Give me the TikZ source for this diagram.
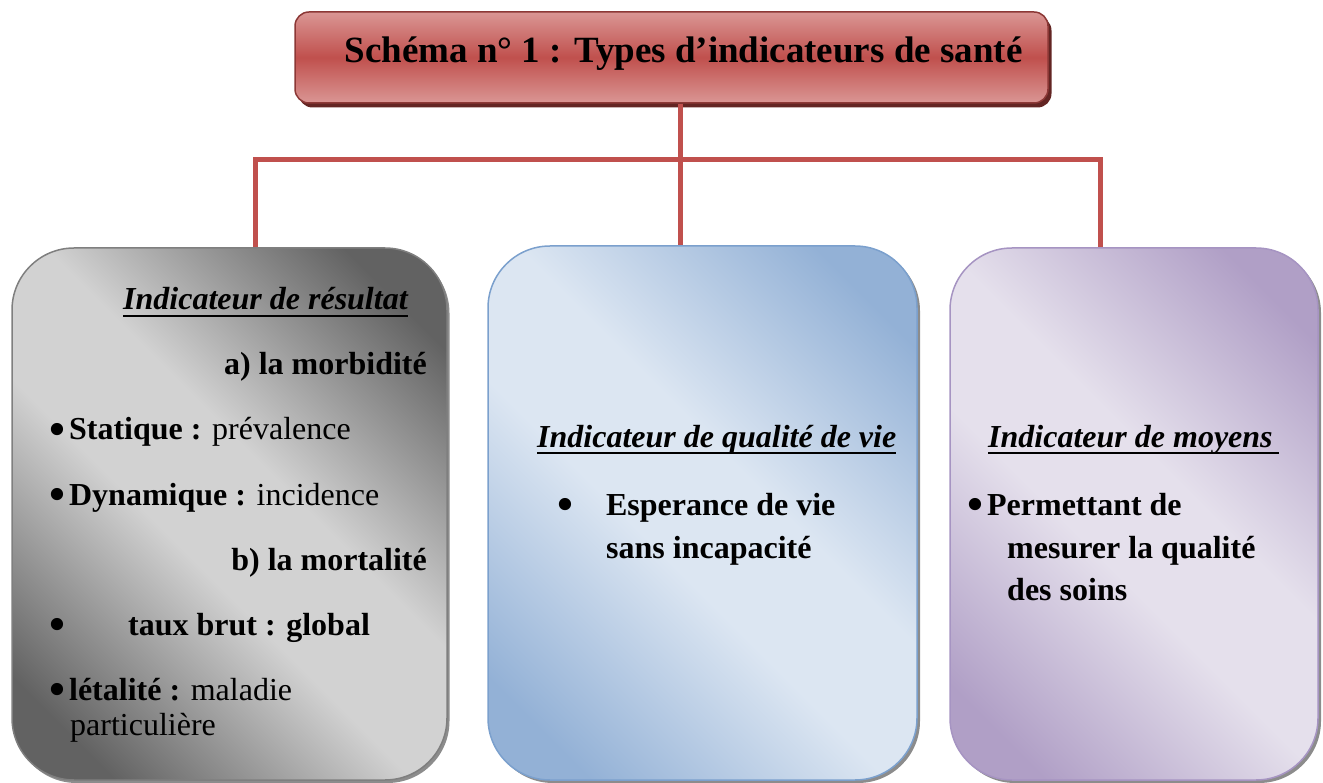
\documentclass[tikz,border=0pt]{standalone}
\usepackage{fontspec}
\usepackage{graphicx}
\setmainfont{Liberation Serif}
\usetikzlibrary{calc}
\definecolor{tlight}{HTML}{DA9694}
\definecolor{tdark}{HTML}{C0504D}
\definecolor{tborder}{HTML}{8C3836}
\definecolor{tshadow}{HTML}{632523}
\definecolor{conncol}{HTML}{C0504D}
\definecolor{gdark}{HTML}{626262}
\definecolor{glight}{HTML}{D2D2D2}
\definecolor{gborder}{HTML}{7F7F7F}
\definecolor{bdark}{HTML}{93B1D6}
\definecolor{blight}{HTML}{DCE6F2}
\definecolor{bborder}{HTML}{7BA0CD}
\definecolor{pdark}{HTML}{B09FC6}
\definecolor{plight}{HTML}{E5E0EC}
\definecolor{pborder}{HTML}{A694C2}
\pgfdeclareverticalshading{grayshade}{100bp}{color(0bp)=(gdark); color(22bp)=(gdark); color(44bp)=(glight); color(56bp)=(glight); color(78bp)=(gdark); color(100bp)=(gdark)}
\pgfdeclareverticalshading{blueshade}{100bp}{color(0bp)=(bdark); color(22bp)=(bdark); color(44bp)=(blight); color(56bp)=(blight); color(78bp)=(bdark); color(100bp)=(bdark)}
\pgfdeclareverticalshading{purpleshade}{100bp}{color(0bp)=(pdark); color(22bp)=(pdark); color(44bp)=(plight); color(56bp)=(plight); color(78bp)=(pdark); color(100bp)=(pdark)}
\newcommand{\mybul}{\raisebox{-6pt}{\scalebox{1.6}{•}}}
\tikzset{
  conn/.style={draw=conncol, line width=5pt},
  bigbox/.style={rectangle, rounded corners=62pt, line width=1.5pt, inner sep=0pt},
  boxshadow/.style={rectangle, rounded corners=62pt, fill=black!45, inner sep=0pt},
  txt/.style={inner sep=0pt, font=\fontsize{32}{38}\selectfont},
  btxt/.style={inner sep=0pt, font=\fontsize{32}{38}\selectfont\bfseries},
  head/.style={txt, font=\fontsize{32}{38}\selectfont\bfseries\itshape},
  uline/.style={line width=2.5pt, black},
}
\begin{document}
\begin{tikzpicture}[x=1pt,y=-1pt]
\useasboundingbox (0,0) rectangle (1323,783);
% title box
\node[rectangle, rounded corners=14pt, fill=tshadow, minimum width=753pt, minimum height=91pt, inner sep=0pt] (tshad) at (675,62) {};
\node[rectangle, rounded corners=14pt, draw=tborder, line width=1.5pt,
      top color=tlight, bottom color=tlight, middle color=tdark,
      minimum width=753pt, minimum height=91pt, inner sep=0pt] (titlebox) at (671.5,57.5) {};
\node[inner sep=0pt, anchor=base, font=\fontsize{37}{42}\selectfont\bfseries] (titletext) at (683.5,63) {Schéma n° 1 : Types d’indicateurs de santé};
% junction coordinates
\coordinate (jl) at (255,160);
\coordinate (jm) at (680,160);
\coordinate (jr) at (1100,160);
% boxes shadows
\node[boxshadow, minimum width=435pt, minimum height=532pt] (s1) at (232,517) {};
\node[boxshadow, minimum width=429pt, minimum height=534pt] (s2) at (705.5,516) {};
\node[boxshadow, minimum width=368pt, minimum height=532pt] (s3) at (1137,517) {};
% boxes
\node[bigbox, draw=gborder, shading=grayshade, shading angle=-45,
      minimum width=435pt, minimum height=532pt] (box1) at (229.5,514) {};
\node[bigbox, draw=bborder, shading=blueshade, shading angle=-45,
      minimum width=429pt, minimum height=534pt] (box2) at (702.5,513) {};
\node[bigbox, draw=pborder, shading=purpleshade, shading angle=-45,
      minimum width=368pt, minimum height=532pt] (box3) at (1134,514) {};
% connectors
\draw[conn] (jm |- titlebox.south) -- (jm);
\draw[conn] (jl |- box1.north) -- (jl) -- (jr) -- (jr |- box3.north);
\draw[conn] (jm) -- (jm |- box2.north);
% left box text
\node[head, anchor=base west] (h1) at (123,310) {Indicateur de résultat};
\draw[uline] ($(h1.base west)+(0,6)$) -- ($(h1.base east)+(0,6)$);
\node[btxt, anchor=base east] (a1) at (427,375) {a) la morbidité};
\node[txt, anchor=base west] (l1) at (48,440) {\mybul\hspace{3pt}\textbf{Statique :} prévalence};
\node[txt, anchor=base west] (l2) at (48,505) {\mybul\hspace{3pt}\textbf{Dynamique :} incidence};
\node[btxt, anchor=base east] (b1) at (427,570) {b) la mortalité};
\node[txt, anchor=base west] (l3) at (48,635) {\mybul\hspace{62pt}\textbf{taux brut : global}};
\node[txt, anchor=base west] (l4) at (48,700) {\mybul\hspace{3pt}\textbf{létalité :} maladie};
\node[txt, anchor=base west] (l5) at (70,735) {particulière};
% middle box text
\node[head, anchor=base west] (h2) at (537,447) {Indicateur de qualité de vie};
\draw[uline] ($(h2.base west)+(0,6)$) -- ($(h2.base east)+(0,6)$);
\node[txt, anchor=base west] (m1) at (556,515) {\mybul\hspace{32pt}\textbf{Esperance de vie}};
\node[btxt, anchor=base west] (m2) at (606,558) {sans incapacité};
% right box text
\node[head, anchor=base west] (h3) at (988,447) {Indicateur de moyens};
\draw[uline] ($(h3.base west)+(0,6)$) -- ($(h3.base east)+(6,6)$);
\node[txt, anchor=base west] (r1) at (966,515) {\mybul\hspace{3pt}\textbf{Permettant de}};
\node[btxt, anchor=base west] (r2) at (1007,558) {mesurer la qualité};
\node[btxt, anchor=base west] (r3) at (1007,600) {des soins};
\end{tikzpicture}
\end{document}
